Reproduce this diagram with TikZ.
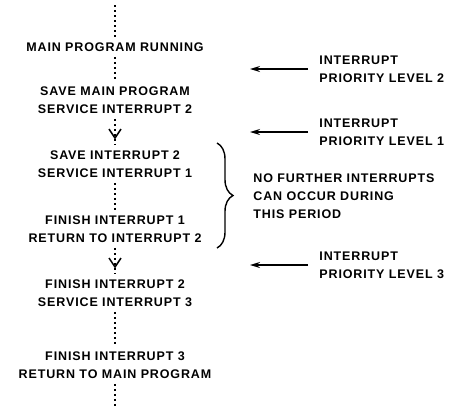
\documentclass[tikz,border=0pt]{standalone}
\usepackage{fontspec}
\newfontfamily\diagfont{Liberation Sans}[LetterSpace=7]
\usetikzlibrary{arrows.meta,decorations.markings,decorations.pathreplacing}
\begin{document}
\begin{tikzpicture}[x=1pt,y=-1pt,thick,
    step node/.style={align=center,inner xsep=2pt,inner ysep=5pt,font=\diagfont\bfseries\fontsize{12.5}{18}\selectfont},
    level node/.style={align=left,anchor=west,inner xsep=0pt,font=\diagfont\bfseries\fontsize{12.5}{18}\selectfont},
    flow/.style={dash pattern=on 1.8pt off 3.2pt,line width=1.8pt},
    flow arrow/.style={flow,postaction={decorate},decoration={markings,mark=at position 0.78 with {\arrow[line width=1.5pt]{Straight Barb[length=9pt,width=12pt]}}}},
    int arrow/.style={-{Stealth[length=10pt,width=6pt]},line width=1.5pt},
    brace line/.style={decorate,decoration={brace,amplitude=16pt},line width=1.4pt}]
        \useasboundingbox (0,0) rectangle (453,410);

        \node[step node] at (115, 47) (run) {MAIN PROGRAM RUNNING};
        \node[step node] at (115, 100) (save) {SAVE MAIN PROGRAM\\SERVICE INTERRUPT 2};
        \node[step node] at (115, 164) (srv1) {SAVE INTERRUPT 2\\SERVICE INTERRUPT 1};
        \node[step node] at (115, 229) (fin1) {FINISH INTERRUPT 1\\RETURN TO INTERRUPT 2};
        \node[step node] at (115, 293) (srv3) {FINISH INTERRUPT 2\\SERVICE INTERRUPT 3};
        \node[step node] at (115, 365) (fin3) {FINISH INTERRUPT 3\\RETURN TO MAIN PROGRAM};
        \coordinate (top) at (115, 5);
        \coordinate (bot) at (115, 408);

        \node[level node] at (319, 69) (lvl2) {INTERRUPT\\PRIORITY LEVEL 2};
        \node[level node] at (319, 132) (lvl1) {INTERRUPT\\PRIORITY LEVEL 1};
        \node[level node] at (319, 265) (lvl3) {INTERRUPT\\PRIORITY LEVEL 3};
        \node[level node] at (253, 196) (note) {NO FURTHER INTERRUPTS\\CAN OCCUR DURING\\THIS PERIOD};
        \coordinate (in2) at (250, 69);
        \coordinate (in1) at (250, 132);
        \coordinate (in3) at (250, 265);
        \coordinate (bt) at (217, 143);
        \coordinate (bb) at (217, 248);

        \path
            (top) edge[flow] (run)
            (run) edge[flow] (save)
            (save) edge[flow arrow] (srv1)
            (srv1) edge[flow] (fin1)
            (fin1) edge[flow arrow] (srv3)
            (srv3) edge[flow] (fin3)
            (fin3) edge[flow] (bot)
            ;

        \draw[int arrow] ([xshift=-11pt]lvl2.west) -- (in2);
        \draw[int arrow] ([xshift=-11pt]lvl1.west) -- (in1);
        \draw[int arrow] ([xshift=-11pt]lvl3.west) -- (in3);
        \draw[brace line] (bt) -- (bb);
    \end{tikzpicture}
\end{document}
